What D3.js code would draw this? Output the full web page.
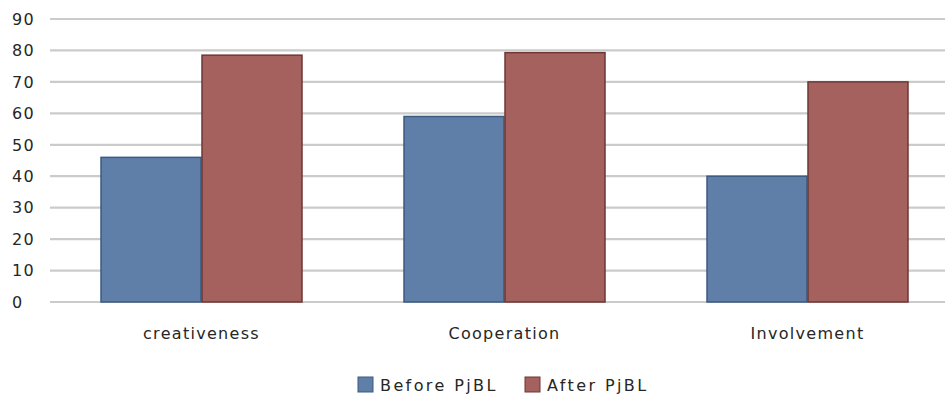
<!DOCTYPE html>
<html>
<head>
<meta charset="utf-8">
<script src="https://cdn.jsdelivr.net/npm/d3@7/dist/d3.min.js"></script>
<style>
  html, body { margin: 0; padding: 0; background: #ffffff; }
  svg { display: block; }
  text { font-family: "DejaVu Sans", Verdana, sans-serif; fill: #262626; }
</style>
</head>
<body>
<div id="chart"></div>
<script>
// Survey scores before and after project-based learning (PjBL)
const categories = ["creativeness", "Cooperation", "Involvement"];
const seriesNames = ["Before PjBL", "After PjBL"];
const beforeValues = [46, 59, 40];
const afterValues = [78.5, 79.3, 70];
const yTicks = [0, 10, 20, 30, 40, 50, 60, 70, 80, 90];

const width = 945, height = 402;
const fills = ["#5f7ea8", "#a5615e"];
const strokes = ["#3d5a80", "#6e3735"];

const svg = d3.select("#chart").append("svg")
  .attr("width", width).attr("height", height);

const x = d3.scaleBand().domain(categories).range([50, 959]).paddingInner(0).paddingOuter(0);
const inner = d3.scaleBand().domain(seriesNames).range([0, x.bandwidth()]).paddingInner(0).paddingOuter(0.5);
const y = d3.scaleLinear().domain([0, 90]).range([302, 19]);

// Horizontal gridlines
svg.append("g").selectAll("line").data(yTicks).join("line")
  .attr("x1", 50).attr("x2", width)
  .attr("y1", d => y(d)).attr("y2", d => y(d))
  .attr("stroke", "#cbcbcb").attr("stroke-width", 2.2);

// Y tick labels
svg.append("g").selectAll("text").data(yTicks).join("text")
  .attr("x", 12).attr("y", d => y(d)).attr("dy", "0.36em")
  .attr("font-size", 16).attr("letter-spacing", 1.2)
  .text(d => d);

const rows = categories.map((c, i) => ({ cat: c, vals: [beforeValues[i], afterValues[i]] }));

const groups = svg.append("g").selectAll("g").data(rows).join("g")
  .attr("transform", d => `translate(${x(d.cat)},0)`);

groups.selectAll("rect").data(d => d.vals.map((v, j) => ({ v, s: seriesNames[j], j })))
  .join("rect")
  .attr("x", d => inner(d.s) + 0.5)
  .attr("width", inner.bandwidth() - 1)
  .attr("y", d => y(d.v))
  .attr("height", d => y(0) - y(d.v))
  .attr("fill", d => fills[d.j])
  .attr("stroke", d => strokes[d.j])
  .attr("stroke-width", 1.5);

// Category labels
svg.append("g").selectAll("text").data(categories).join("text")
  .attr("x", d => x(d) + x.bandwidth() / 2)
  .attr("y", 333).attr("dy", "0.36em")
  .attr("text-anchor", "middle")
  .attr("font-size", 16).attr("letter-spacing", 1.3)
  .text(d => d);

// Legend
const legendX = [358, 525];
const legend = svg.append("g").selectAll("g").data(seriesNames).join("g")
  .attr("transform", (d, i) => `translate(${legendX[i]},385)`);
legend.append("rect")
  .attr("x", 0).attr("y", -8).attr("width", 15).attr("height", 15)
  .attr("fill", (d, i) => fills[i]).attr("stroke", (d, i) => strokes[i]).attr("stroke-width", 1);
legend.append("text")
  .attr("x", 22).attr("y", 0).attr("dy", "0.36em")
  .attr("font-size", 16).attr("letter-spacing", 2.4)
  .text(d => d);
</script>
</body>
</html>
